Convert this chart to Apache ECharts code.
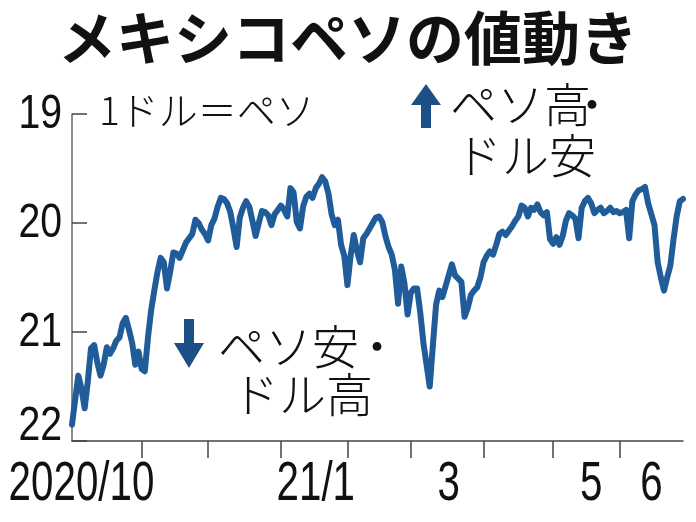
<!DOCTYPE html>
<html><head><meta charset="utf-8">
<script src="https://cdn.jsdelivr.net/npm/echarts@6/dist/echarts.min.js"></script>
<style>html,body{margin:0;padding:0;background:#fff}#c{width:696px;height:522px}</style>
</head><body><div id="c"></div>
<script>
// Weekday categories from 2020-10-01 to 2021-06-29
const startDate = '2020-10-01';
const endDate = '2021-06-29';
// Peso per dollar values, one per weekday
const values = [
21.85,21.62,21.40,21.52,21.70,21.45,21.15,21.12,21.28,21.40,
21.30,21.14,21.20,21.15,21.08,21.05,20.92,20.87,20.98,21.10,
21.30,21.18,21.34,21.36,21.05,20.80,20.62,20.45,20.32,20.36,
20.60,20.45,20.27,20.28,20.32,20.25,20.18,20.14,20.10,19.97,
20.00,20.06,20.10,20.16,20.02,19.96,19.85,19.77,19.78,19.82,
19.90,20.05,20.22,19.95,19.86,19.80,19.85,19.98,20.12,20.00,
19.89,19.90,19.93,20.02,19.92,19.88,19.84,19.88,19.94,19.68,
19.72,19.99,20.05,19.85,19.76,19.73,19.77,19.68,19.64,19.58,
19.62,19.73,19.92,20.02,19.97,20.20,20.30,20.57,20.30,20.11,
20.25,20.36,20.14,20.10,20.05,20.00,19.95,19.94,19.99,20.12,
20.22,20.29,20.43,20.74,20.40,20.55,20.84,20.64,20.60,20.60,
20.82,21.10,21.30,21.50,21.12,20.75,20.62,20.68,20.58,20.48,
20.38,20.48,20.51,20.54,20.86,20.78,20.66,20.62,20.59,20.50,
20.36,20.30,20.26,20.29,20.20,20.10,20.08,20.11,20.07,20.03,
19.98,19.94,19.84,19.86,19.94,19.86,19.88,19.83,19.90,19.93,
19.90,20.15,20.19,20.13,20.20,20.12,19.98,19.91,19.93,19.96,
20.14,19.86,19.80,19.77,19.82,19.91,19.88,19.86,19.91,19.89,
19.86,19.90,19.89,19.91,19.90,19.88,20.14,19.80,19.74,19.70,
19.69,19.67,19.82,19.92,20.02,20.36,20.50,20.62,20.50,20.39,
20.15,19.94,19.80,19.78
];
const yTicks = [19, 20, 21, 22];
const xTickLabels = ['2020/10', '21/1', '3', '5', '6'];
const xTickLabelIdx = [3, 77, 119, 164, 183];

function weekdays(s, e) {
  const out = [];
  const d = new Date(s + 'T00:00:00Z');
  const end = new Date(e + 'T00:00:00Z');
  while (d <= end) {
    const w = d.getUTCDay();
    if (w !== 0 && w !== 6) out.push(d.toISOString().slice(0, 10));
    d.setUTCDate(d.getUTCDate() + 1);
  }
  return out;
}
const cats = weekdays(startDate, endDate);
const monthStart = new Set();
cats.forEach((c, i) => { if (i > 0 && c.slice(5, 7) !== cats[i - 1].slice(5, 7)) monthStart.add(i); });

const numFont = '"Liberation Sans",Arial,sans-serif';
const jpFont = '"Noto Sans CJK JP","Noto Sans",sans-serif';
const lineColor = '#1f5c99';
const arrowColor = '#1d4f87';

const chart = echarts.init(document.getElementById('c'), null, {renderer: 'canvas'});
chart.setOption({
  animation: false,
  backgroundColor: '#fff',
  grid: {left: 72, right: 13, top: 114, bottom: 81, containLabel: false, outerBoundsMode: 'none'},
  xAxis: {
    type: 'category', data: cats, boundaryGap: false,
    axisLine: {onZero: false, lineStyle: {color: '#444', width: 1.5}},
    axisTick: {show: true, length: 17, inside: false, interval: (i) => monthStart.has(i), lineStyle: {color: '#444', width: 1.5}},
    axisLabel: {show: false},
    splitLine: {show: false}
  },
  yAxis: {
    type: 'value', inverse: true, min: yTicks[0], max: yTicks[yTicks.length - 1], interval: 1,
    axisLine: {show: true, lineStyle: {color: '#666', width: 1.5}},
    axisTick: {show: true, inside: true, length: 15, lineStyle: {color: '#444', width: 1.5}},
    axisLabel: {show: false},
    splitLine: {show: false}
  },
  series: [{
    type: 'line', data: values, symbol: 'none', smooth: false,
    lineStyle: {color: lineColor, width: 6, join: 'round', cap: 'round'}
  }]
});

// Tick labels placed through the axes' own scales (condensed look via scaleX)
const labelEls = [];
yTicks.forEach((v, k) => {
  const py = chart.convertToPixel({yAxisIndex: 0}, v);
  const shift = (k === yTicks.length - 1) ? -15 : 0;
  labelEls.push({type: 'text', x: 62, y: py + shift, scaleX: 0.8,
    style: {text: String(v), font: '49px ' + numFont, fill: '#111', textAlign: 'right', textVerticalAlign: 'middle'}});
});
xTickLabelIdx.forEach((idx, k) => {
  const px = chart.convertToPixel({xAxisIndex: 0}, cats[idx]);
  labelEls.push({type: 'text', x: px, y: 485, scaleX: 0.72,
    style: {text: xTickLabels[k], font: '56px ' + numFont, fill: '#111', textAlign: 'center', textVerticalAlign: 'middle'}});
});

chart.setOption({
  graphic: {elements: labelEls.concat([
    {type: 'text', left: 'center', top: 9, style: {text: 'メキシコペソの値動き', font: 'bold 58px ' + jpFont, fill: '#111'}},
    {type: 'text', x: 99, y: 110, style: {text: '1ドル＝ペソ', font: '300 39px ' + jpFont, fill: '#111', textVerticalAlign: 'middle'}},
    {type: 'polygon', shape: {points: [[426, 84], [441, 105], [431, 105], [431, 128], [421, 128], [421, 105], [411, 105]]}, style: {fill: arrowColor}},
    {type: 'text', x: 450, y: 104, style: {text: 'ペソ高', font: '300 47px ' + jpFont, fill: '#111', textVerticalAlign: 'middle'}},
    {type: 'text', x: 592, y: 104, style: {text: '・', font: '300 47px ' + jpFont, fill: '#111', textAlign: 'center', textVerticalAlign: 'middle'}},
    {type: 'text', x: 455, y: 155, style: {text: 'ドル安', font: '300 47px ' + jpFont, fill: '#111', textVerticalAlign: 'middle'}},
    {type: 'polygon', shape: {points: [[184, 319], [194, 319], [194, 343], [204, 343], [189, 368], [174, 343], [184, 343]]}, style: {fill: arrowColor}},
    {type: 'text', x: 218, y: 346, style: {text: 'ペソ安', font: '300 47px ' + jpFont, fill: '#111', textVerticalAlign: 'middle'}},
    {type: 'text', x: 377, y: 346, style: {text: '・', font: '300 47px ' + jpFont, fill: '#111', textAlign: 'center', textVerticalAlign: 'middle'}},
    {type: 'text', x: 232, y: 394, style: {text: 'ドル高', font: '300 47px ' + jpFont, fill: '#111', textVerticalAlign: 'middle'}}
  ])}
});
</script></body></html>
